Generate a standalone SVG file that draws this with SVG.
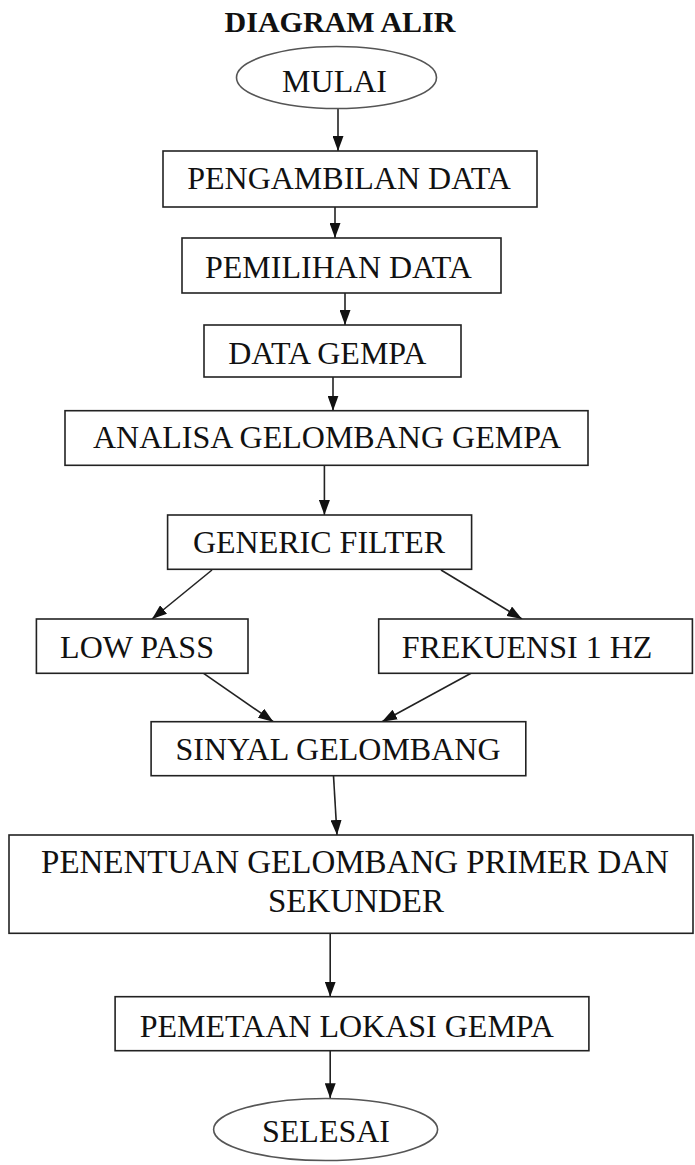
<svg xmlns="http://www.w3.org/2000/svg" width="695" height="1165" viewBox="0 0 695 1165">
<defs>
<style>
.box{fill:#fff;stroke:#222;stroke-width:1.6}
.oval{fill:#fff;stroke:#555;stroke-width:1.6}
.t{font-family:"Liberation Serif","Times New Roman",serif;font-size:32px;fill:#111;text-anchor:middle}
.title{font-family:"Liberation Serif","Times New Roman",serif;font-size:30px;font-weight:bold;fill:#111;text-anchor:middle}
.c{fill:none;stroke:#222;stroke-width:1.6;marker-end:url(#ah)}
</style>
<marker id="ah" viewBox="0 0 15 11" refX="15" refY="5.5" markerWidth="15" markerHeight="11" markerUnits="userSpaceOnUse" orient="auto">
<path d="M0,0 L15,5.5 L0,11 z" fill="#111"/>
</marker>
</defs>
<rect width="695" height="1165" fill="#fff"/>
<text class="title" x="340" y="32">DIAGRAM ALIR</text>
<g id="connectors">
<line class="c" x1="338" y1="109" x2="338" y2="151"/>
<line class="c" x1="335" y1="207" x2="335" y2="238"/>
<line class="c" x1="345" y1="293" x2="345" y2="325"/>
<line class="c" x1="333" y1="377" x2="333" y2="410.7"/>
<line class="c" x1="324.4" y1="465.3" x2="324.4" y2="515"/>
<line class="c" x1="212" y1="570" x2="152" y2="619"/>
<line class="c" x1="441" y1="570" x2="522" y2="619"/>
<line class="c" x1="203.6" y1="673.3" x2="273.3" y2="721.7"/>
<line class="c" x1="471" y1="673.3" x2="382" y2="721.7"/>
<line class="c" x1="333.5" y1="775.7" x2="337" y2="835"/>
<line class="c" x1="330.2" y1="933.3" x2="330.2" y2="996.7"/>
<line class="c" x1="330.2" y1="1050.7" x2="330.2" y2="1098.3"/>
</g>
<g id="mulai">
<ellipse class="oval" cx="336.5" cy="77.5" rx="100" ry="31"/>
<text class="t" x="334.5" y="92">MULAI</text>
</g>
<g id="pengambilan">
<rect class="box" x="163" y="151" width="374" height="56"/>
<text class="t" x="349" y="189">PENGAMBILAN DATA</text>
</g>
<g id="pemilihan">
<rect class="box" x="182" y="238" width="319" height="55"/>
<text class="t" x="338.4" y="278">PEMILIHAN DATA</text>
</g>
<g id="datagempa">
<rect class="box" x="204" y="325" width="257" height="52"/>
<text class="t" x="327.3" y="364">DATA GEMPA</text>
</g>
<g id="analisa">
<rect class="box" x="65" y="410.7" width="523" height="54.6"/>
<text class="t" x="327" y="448.3">ANALISA GELOMBANG GEMPA</text>
</g>
<g id="generic">
<rect class="box" x="167.6" y="515" width="304" height="54.3"/>
<text class="t" x="319" y="553.3">GENERIC FILTER</text>
</g>
<g id="lowpass">
<rect class="box" x="36.4" y="619" width="211.6" height="54.3"/>
<text class="t" x="137" y="657.7">LOW PASS</text>
</g>
<g id="frekuensi">
<rect class="box" x="378.7" y="619" width="313.7" height="54.3"/>
<text class="t" x="527" y="657.7">FREKUENSI 1 HZ</text>
</g>
<g id="sinyal">
<rect class="box" x="151.1" y="721.7" width="374.7" height="54"/>
<text class="t" x="338" y="760">SINYAL GELOMBANG</text>
</g>
<g id="penentuan">
<rect class="box" x="9" y="835" width="684" height="98.3"/>
<text class="t" style="font-size:33px" x="355" y="873.3">PENENTUAN GELOMBANG PRIMER DAN</text>
<text class="t" style="font-size:33px" x="356" y="911.7">SEKUNDER</text>
</g>
<g id="pemetaan">
<rect class="box" x="115.1" y="996.7" width="473.8" height="54"/>
<text class="t" x="346.8" y="1036.7">PEMETAAN LOKASI GEMPA</text>
</g>
<g id="selesai">
<ellipse class="oval" cx="325.6" cy="1129.5" rx="112" ry="31"/>
<text class="t" x="326" y="1141.7">SELESAI</text>
</g>
</svg>
